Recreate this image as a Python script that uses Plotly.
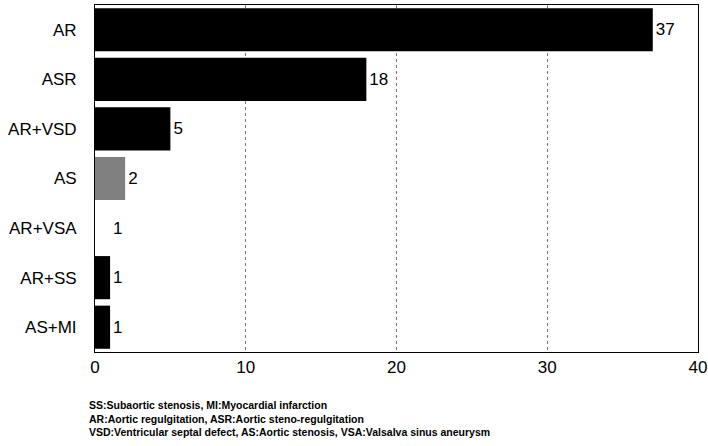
import plotly.graph_objects as go

categories = ["AR", "ASR", "AR+VSD", "AS", "AR+VSA", "AR+SS", "AS+MI"]
values = [37, 18, 5, 2, 1, 1, 1]
colors = ["black", "black", "black", "#808080", "white", "black", "black"]
tick_vals = [0, 10, 20, 30, 40]
footnotes = [
    "SS:Subaortic stenosis, MI:Myocardial infarction",
    "AR:Aortic regulgitation, ASR:Aortic steno-regulgitation",
    "VSD:Ventricular septal defect, AS:Aortic stenosis, VSA:Valsalva sinus aneurysm",
]

FONT = "Liberation Sans, Arial"

fig = go.Figure(go.Bar(
    y=categories, x=values, orientation="h",
    marker=dict(color=colors, line=dict(width=0)),
    width=0.87,
    text=[str(v) for v in values], textposition="outside",
    textfont=dict(family=FONT, size=17, color="black"),
    cliponaxis=False,
))

fig.update_layout(
    width=708, height=446,
    margin=dict(l=95, r=10, t=5, b=94, autoexpand=False),
    paper_bgcolor="white", plot_bgcolor="white",
    showlegend=False,
    font=dict(family=FONT, size=17, color="black"),
    xaxis=dict(range=[0, 40], tickvals=tick_vals, showgrid=True,
               gridcolor="#777", griddash="dot", gridwidth=1,
               showline=True, linecolor="black", linewidth=1, mirror=True,
               zeroline=False, ticks="", tickfont=dict(size=17),
               automargin=False),
    yaxis=dict(categoryorder="array", categoryarray=categories[::-1],
               autorange=False, range=[-0.5, 6.5],
               showline=True, linecolor="black", linewidth=1, mirror=True,
               ticks="", ticklabelstandoff=14, tickfont=dict(size=17),
               automargin=False),
)

fig.add_annotation(
    text="<br>".join(footnotes), xref="paper", yref="paper",
    x=-0.013, y=-0.13, xanchor="left", yanchor="top", align="left",
    showarrow=False,
    font=dict(family=FONT, size=10.5, color="black", weight="bold"),
)

fig.write_html("out.html", config={"displayModeBar": False},
               post_script="document.body.style.margin='0';")
